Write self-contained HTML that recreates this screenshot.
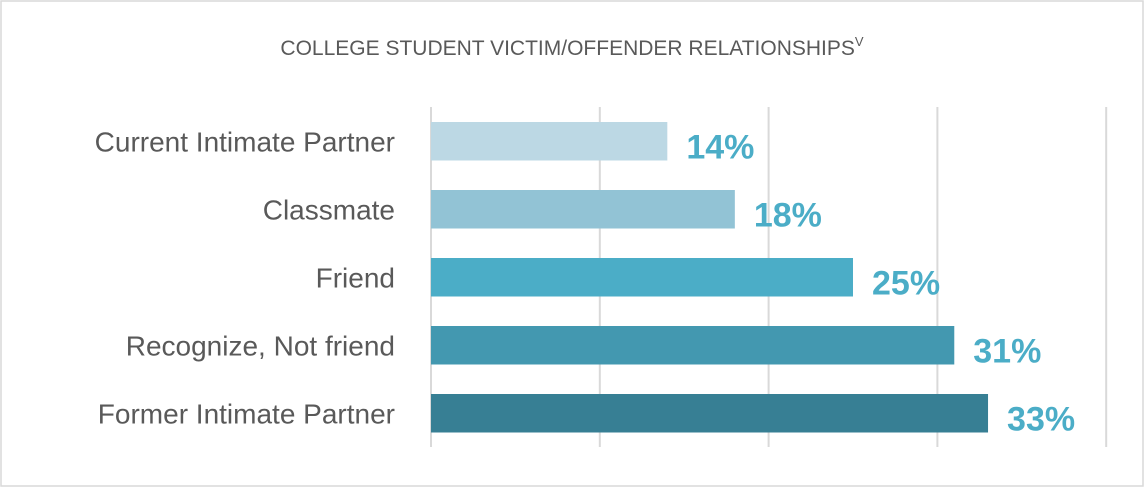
<!DOCTYPE html>
<html><head><meta charset="utf-8"><style>
body{margin:0;background:#fff;}
#chart{position:relative;width:1147px;height:490px;font-family:"Liberation Sans",sans-serif;}
</style></head><body>
<div id="chart">
<svg id="svg" width="1147" height="490">
<rect x="1" y="1" width="1142" height="485" fill="#fff" stroke="#d9d9d9" stroke-width="1.5"/>
<text x="572" y="55" text-anchor="middle" font-size="21" fill="#595959">COLLEGE STUDENT VICTIM/OFFENDER RELATIONSHIPS<tspan font-size="13" dy="-9">V</tspan></text>
<g id="grid"></g>
<g id="bars"></g>
</svg>
</div>
<script>
const categories=["Current Intimate Partner","Classmate","Friend","Recognize, Not friend","Former Intimate Partner"];
const values=[14,18,25,31,33];
const colors=["#bcd8e4","#92c3d5","#4badc7","#4398b0","#377f94"];
const ticks=[0,10,20,30,40];
const ns="http://www.w3.org/2000/svg";
const x0=431,pxPer=16.88,yTop=122,step=68,bh=38.5;
const xs=v=>x0+v*pxPer;
const grid=document.getElementById('grid'),bars=document.getElementById('bars');
ticks.forEach(t=>{const l=document.createElementNS(ns,'line');


l.setAttribute('x1',xs(t));l.setAttribute('x2',xs(t));l.setAttribute('y1',107);l.setAttribute('y2',447);
l.setAttribute('stroke','#d9d9d9');l.setAttribute('stroke-width','2');grid.appendChild(l);});
categories.forEach((c,i)=>{const y=yTop+i*step;
const r=document.createElementNS(ns,'rect');


r.setAttribute('x',x0);r.setAttribute('y',y);r.setAttribute('width',xs(values[i])-x0);r.setAttribute('height',bh);r.setAttribute('fill',colors[i]);bars.appendChild(r);
const t=document.createElementNS(ns,'text');


t.setAttribute('x',395);t.setAttribute('y',y+bh/2+10);t.setAttribute('text-anchor','end');t.setAttribute('font-size','28');t.setAttribute('fill','#595959');t.textContent=c;bars.appendChild(t);
const v=document.createElementNS(ns,'text');


v.setAttribute('x',xs(values[i])+19);v.setAttribute('y',y+bh/2+17);v.setAttribute('font-size','34');v.setAttribute('font-weight','bold');v.setAttribute('fill','#4badc7');v.textContent=values[i]+'%';bars.appendChild(v);
});
</script>
</body></html>
